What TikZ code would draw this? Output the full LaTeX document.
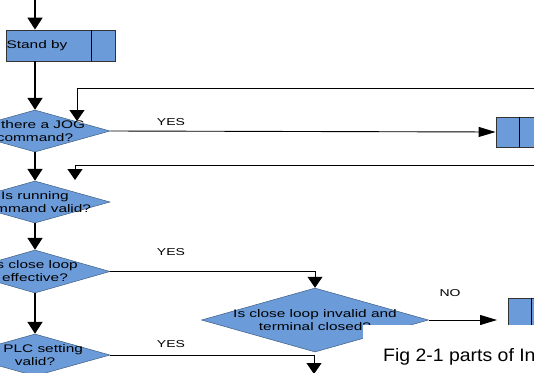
\documentclass[tikz,border=0pt]{standalone}
\usepackage{fontspec}
\setmainfont{Liberation Sans}
\newfontfamily\flowfont[FakeStretch=1.4]{Liberation Sans}
\newfontfamily\capfont[FakeStretch=1.08]{Liberation Sans}
\usetikzlibrary{arrows.meta,shapes.geometric,positioning}
\definecolor{flowblue}{HTML}{6B9BD9}
\tikzset{
	decision/.style={diamond,draw=flowblue!60!black,line width=0.5pt,fill=flowblue,inner sep=0pt,minimum width=150pt,minimum height=42pt},
	procbox/.style={rectangle,draw=black!80,line width=0.9pt,fill=flowblue,inner sep=0pt,minimum width=109pt,minimum height=31pt},
	intext/.style={font=\flowfont\fontsize{11}{13}\selectfont,align=center},
	flowtag/.style={font=\flowfont\fontsize{10}{12}\selectfont},
	mainarrow/.style={line width=1.8pt,-{Triangle[width=15pt,length=12pt]}},
	sidearrow/.style={line width=0.9pt,-{Triangle[width=15pt,length=11pt]}},
	longarrow/.style={line width=0.9pt,-{Triangle[width=10pt,length=17pt]}}
}

\begin{document}
\begin{tikzpicture}[x=1pt,y=-1pt]
	\useasboundingbox (0,0) rectangle (534,372);
	\clip (0,0) rectangle (534,372);
	\coordinate (start) at (35,0);
	\node at (60.5,45.5)[procbox,label={[intext,xshift=-23.5pt]center:Stand by}] (standby) {};
	\draw[line width=0.9pt] ([xshift=-24pt]standby.north east) -- ([xshift=-24pt]standby.south east);
	\node at (35,131)[decision,label={[intext]center:{Is there a JOG\\command?}}] (jog) {};
	\node at (35,202)[decision,label={[intext]center:{Is running\\command valid?}}] (run) {};
	\node at (35,271.5)[decision,minimum height=43pt,label={[intext]center:{Is close loop\\effective?}}] (loop) {};
	\node at (35,355)[decision,label={[intext]center:{Is PLC setting\\valid?}}] (plc) {};
	\node at (315,320)[decision,minimum width=227pt,minimum height=64pt,label={[intext]center:{Is close loop invalid and\\terminal closed?}}] (inval) {};
	\node at (550.5,132)[procbox,minimum height=30pt] (jogbox) {};
	\draw[line width=0.9pt] ([xshift=24pt]jogbox.north west) -- ([xshift=24pt]jogbox.south west);
	\node at (562.5,313)[procbox,minimum height=30pt] (stopbox) {};
	\draw[line width=0.9pt] ([xshift=24pt]stopbox.north west) -- ([xshift=24pt]stopbox.south west);
	\draw[mainarrow] (start) -- (start |- standby.north);
	\draw[mainarrow] (start |- standby.south) -- (jog.north);
	\draw[mainarrow] (jog.south) -- (run.north);
	\draw[mainarrow] (run.south) -- (loop.north);
	\draw[mainarrow] (loop.south) -- (plc.north);
	\draw[longarrow] (jog.east) -- (jogbox.west);
	\coordinate (jogback) at (540,88);
	\coordinate (jogin) at (77,121);
	\draw[sidearrow] (jogback) -| (jogin);
	\coordinate (runback) at (540,165);
	\coordinate (runin) at (75,180);
	\draw[sidearrow] (runback) -| (runin);
	\draw[sidearrow] (loop.east) -| (inval.north);
	\coordinate (noend) at (497,320);
	\draw[longarrow] (inval.east) -- (noend);
	\coordinate (plcout) at (314,374);
	\draw[sidearrow] (plc.east) -| (plcout);
	\node at (171,122)[flowtag] (yesjog) {YES};
	\node at (171,252)[flowtag] (yesloop) {YES};
	\node at (171,344)[flowtag] (yesplc) {YES};
	\node at (450,293)[flowtag] (noinval) {NO};
	\fill[white] (363,325) rectangle (540,380);
	\node at (383,361)[anchor=base west,inner sep=0pt,font=\capfont\fontsize{18}{20}\selectfont] (figcap) {Fig 2-1 parts of In};
\end{tikzpicture}
\end{document}
